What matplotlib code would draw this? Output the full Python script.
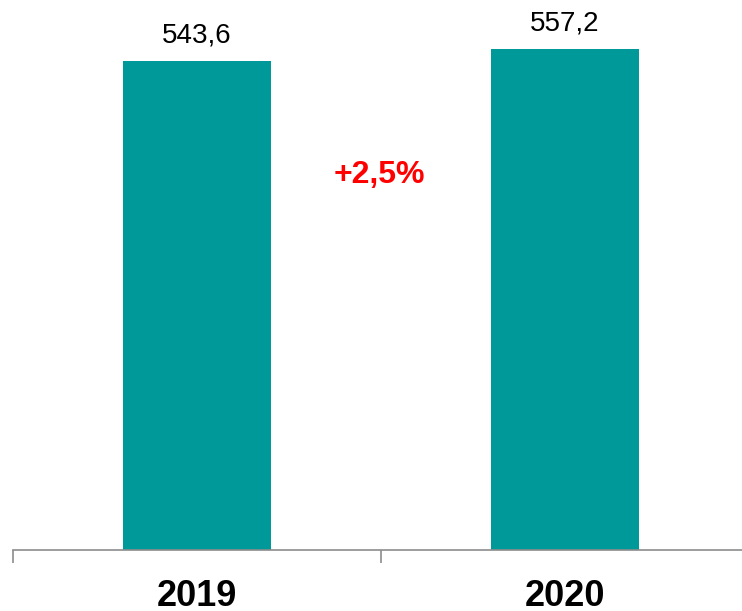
import matplotlib
matplotlib.use("Agg")
import matplotlib.pyplot as plt

categories = ["2019", "2020"]
values = [543.6, 557.2]
value_labels = ["543,6", "557,2"]
change_label = "+2,5%"

plt.rcParams['font.family'] = ['Liberation Sans', 'DejaVu Sans']

W, H = 742, 611
fig = plt.figure(figsize=(W / 100, H / 100), dpi=100)
ax = fig.add_axes([13 / W, 61 / H, 736 / W, 550 / H])
ax.set_xlim(-0.5, 1.5)
ax.set_ylim(0, 611.4)

x = list(range(len(categories)))
ax.bar(x, values, width=0.40, color="#009999", zorder=2)

for xi, v, lab in zip(x, values, value_labels):
    ax.annotate(lab, (xi, v), xytext=(0, 13), textcoords="offset points",
                ha="center", va="baseline", fontsize=20, color="black")

ax.text(0.495, 408, change_label, ha="center", va="baseline", fontsize=23,
        fontweight="bold", color="#FF0000")

for s in ["top", "right", "left"]:
    ax.spines[s].set_visible(False)
ax.spines["bottom"].set_color("#8c8c8c")
ax.spines["bottom"].set_linewidth(1.2)
ax.set_yticks([])
ax.set_xticks([-0.5, 0.5, 1.5])
ax.set_xticklabels([])
ax.tick_params(axis="x", which="major", length=9, width=1.2, color="#8c8c8c", direction="out")

trans = ax.get_xaxis_transform()
for xi, c in zip(x, categories):
    ax.text(xi, -0.102, c, transform=trans, ha="center", va="baseline",
            fontsize=26, fontweight="bold", color="black")

fig.savefig("out.png", dpi=100)
